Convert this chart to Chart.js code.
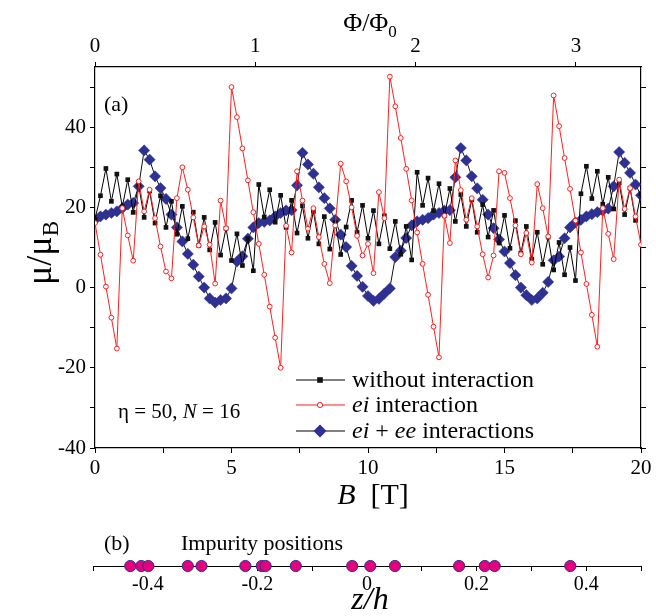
<!DOCTYPE html>
<html>
<head>
<meta charset="utf-8">
<script src="https://cdn.jsdelivr.net/npm/chart.js@4.4.1/dist/chart.umd.min.js"></script>
<style>
  html, body { margin: 0; padding: 0; background: #fff; }
  #wrap { position: relative; width: 656px; height: 616px; overflow: hidden; }
  #main { position: absolute; left: 0; top: 0; }
  #imp  { position: absolute; left: 0; top: 520px; }
</style>
</head>
<body>
<div id="wrap">
  <canvas id="main" width="656" height="520"></canvas>
  <canvas id="imp" width="656" height="96"></canvas>
</div>
<script>
// Magnetic field B [T], sampled every 0.2 T
const fieldT = [
  0, 0.2, 0.4, 0.6, 0.8, 1, 1.2, 1.4, 1.6, 1.8,
  2, 2.2, 2.4, 2.6, 2.8, 3, 3.2, 3.4, 3.6, 3.8,
  4, 4.2, 4.4, 4.6, 4.8, 5, 5.2, 5.4, 5.6, 5.8,
  6, 6.2, 6.4, 6.6, 6.8, 7, 7.2, 7.4, 7.6, 7.8,
  8, 8.2, 8.4, 8.6, 8.8, 9, 9.2, 9.4, 9.6, 9.8,
  10, 10.2, 10.4, 10.6, 10.8, 11, 11.2, 11.4, 11.6, 11.8,
  12, 12.2, 12.4, 12.6, 12.8, 13, 13.2, 13.4, 13.6, 13.8,
  14, 14.2, 14.4, 14.6, 14.8, 15, 15.2, 15.4, 15.6, 15.8,
  16, 16.2, 16.4, 16.6, 16.8, 17, 17.2, 17.4, 17.6, 17.8,
  18, 18.2, 18.4, 18.6, 18.8, 19, 19.2, 19.4, 19.6, 19.8,
  20
];

// Magnetic moment mu/mu_B without interaction
const muWithout = [
  17, 22.9, 29.7, 21.5, 28.3, 20.1, 26.9, 18.75, 25.5, 17.5,
  24.1, 16.1, 22.9, 15, 21.5, 13.3, 20.25, 12.2, 18.8, 10.5,
  17.5, 9.4, 16.25, 8.1, 14.8, 6.75, 13.4, 5.5, 12.2, 4.2,
  25.7, 17.6, 24.4, 16.3, 23, 15, 21.75, 13.6, 20.4, 12.3,
  19, 10.9, 17.7, 9.6, 16.3, 8.25, 15.1, 21.75, 13.75, 20.5,
  12.3, 19.2, 10.9, 17.9, 9.7, 16.5, 8.3, 15.25, 6.9, 28.75,
  20.5, 27.3, 19.2, 25.9, 17.9, 24.7, 16.5, 23.2, 15.25, 21.9,
  13.8, 20.7, 12.6, 19.25, 11.1, 18, 9.8, 16.7, 8.6, 15.25,
  7.1, 13.8, 5.8, 12.6, 4.4, 11.25, 3.2, 10, 1.75, 23.4,
  30.25, 22.2, 29, 20.8, 27.5, 19.6, 26.1, 18.2, 24.8, 16.75,
  23.4
];

// with electron-impurity interaction
const muEi = [
  16.1, 8.2, 0.25, -7.5, -15.2, 19.8, 13, 6.7, 26.5, 19,
  24.4, 17.3, 10.25, 4, 2.3, 22.3, 30, 24.4, 17.5, 10.5,
  15.25, 10.7, 1, 21.7, 14.8, 50, 42.5, 34.7, 26.75, 18.8,
  10.9, 3.2, -4.75, -12.5, -20, 15.4, 8.75, 29, 21.7, 14.7,
  19.8, 12.6, 5.9, 1.1, 15.5, 30.9, 26.5, 20, 12.9, 8,
  10.9, 3.6, 23.8, 17.3, 52.6, 45.2, 37.3, 29.6, 21.75, 13.75,
  5.9, -1.8, -9.75, -17.4, 17.9, 11.1, 31.7, 24.3, 16.9, 22.3,
  15.25, 8.3, 2.5, 8, 29, 28.6, 22.3, 15.5, 8.3, 13.6,
  6.25, 25.8, 19.8, 12.75, 47.9, 40.25, 32.3, 24.6, 16.7, 8.75,
  0.9, -6.8, -14.75, 19.8, 13.4, 7.1, 26.9, 19.6, 24.8, 17.75,
  10.7
];

// with electron-impurity and electron-electron interactions
const muEiEe = [
  16.9, 17.75, 18.2, 18.6, 19, 19.8, 20.7, 21.1, 25.25, 34.2,
  31.9, 27.75, 24.8, 22.1, 18.2, 15, 11.5, 8.4, 5.7, 2.75,
  0, -2.7, -3.75, -3.1, -2.7, -0.2, 6.5, 7.8, 12.2, 15,
  16.1, 16.4, 16.75, 17.75, 18.6, 19.25, 19.3, 25.5, 33.6, 30.7,
  28.4, 25, 22.3, 19.75, 16.9, 13.2, 10.1, 5.4, 2.9, 0.2,
  -2.1, -3.3, -2.8, -1.5, -0.2, 7.6, 9.2, 12.35, 15.5, 16.5,
  16.9, 17.3, 18.2, 18.6, 19.2, 19.3, 27.5, 34.8, 31.7, 27.75,
  24.75, 21.9, 18.2, 14.8, 12, 9, 6.1, 3.1, 0, -1.9,
  -3.1, -2.7, -1.3, 1.4, 6.8, 7.75, 12.3, 15, 16.25, 16.9,
  17.75, 18.3, 18.8, 19.2, 19.7, 25.25, 33.8, 31.1, 28.6, 25.7,
  23
];

// Impurity positions along the wire, z/h
const impurityZ = [
  -0.432, -0.412, -0.399, -0.327, -0.302, -0.222, -0.192, -0.185,
  -0.130, -0.027, 0.006, 0.051, 0.168, 0.215, 0.233, 0.371
];

// Axis ticks (labelled values and all tick marks)
const fieldTicks = [0, 5, 10, 15, 20];
const fieldTickMarks = [0, 2.5, 5, 7.5, 10, 12.5, 15, 17.5, 20];
const fluxTicks = [0, 1, 2, 3];
const muTicks = [-40, -20, 0, 20, 40];
const muTickMarks = [-40, -30, -20, -10, 0, 10, 20, 30, 40, 50];
const zTicks = [-0.4, -0.2, 0, 0.2, 0.4];
const zTickLabels = ['-0.4', '-0.2', '0', '0.2', '0.4'];
const zTickMarks = [-0.5, -0.4, -0.3, -0.2, -0.1, 0, 0.1, 0.2, 0.3, 0.4, 0.5];

const teslaPerFluxQuantum = 5.872;   // field giving one flux quantum through the ring

const SERIF = "'Liberation Serif', 'Times New Roman', serif";
const RED = '#ff1f1f';
const NAVY = '#2e3192';
const MAGENTA = '#e4007c';

// Draw a run of text pieces with individual fonts / vertical offsets
function drawRuns(ctx, parts, x, y, align) {
  let w = 0;
  parts.forEach(p => { ctx.font = p.font; w += ctx.measureText(p.t).width; });
  let cx = align === 'center' ? x - w / 2 : x;
  parts.forEach(p => {
    ctx.font = p.font;
    ctx.fillText(p.t, cx, y + (p.dy || 0));
    cx += ctx.measureText(p.t).width;
  });
}

function near(list, v) {
  return list.findIndex(t => Math.abs(t - v) < 1e-6);
}

function marker(ctx, kind, x, y) {
  ctx.save();
  if (kind === 'square') {
    ctx.fillStyle = '#111';
    ctx.fillRect(x - 2.8, y - 2.8, 5.6, 5.6);
  } else if (kind === 'circle') {
    ctx.beginPath(); ctx.arc(x, y, 2.6, 0, Math.PI * 2);
    ctx.fillStyle = '#fff'; ctx.fill();
    ctx.strokeStyle = RED; ctx.lineWidth = 1; ctx.stroke();
  } else {
    const r = 6.5;
    ctx.beginPath();
    ctx.moveTo(x, y - r); ctx.lineTo(x + r, y); ctx.lineTo(x, y + r); ctx.lineTo(x - r, y);
    ctx.closePath(); ctx.fillStyle = NAVY; ctx.fill();
  }
  ctx.restore();
}

const legendRows = [
  { y: 380, kind: 'square', line: '#000', parts: [['without interaction', false]] },
  { y: 405, kind: 'circle', line: RED, parts: [['ei', true], [' interaction', false]] },
  { y: 431, kind: 'diamond', line: '#000', parts: [['ei', true], [' + ', false], ['ee', true], [' interactions', false]] }
];

const mainText = {
  id: 'mainText',
  afterDraw(chart) {
    const c = chart.ctx;
    c.save();
    c.fillStyle = '#000';
    c.textBaseline = 'alphabetic';

    c.font = `22px ${SERIF}`;
    c.fillText('(a)', 104, 111);

    // top axis title
    drawRuns(c, [
      { t: 'Φ/Φ', font: `26px ${SERIF}` },
      { t: '0', font: `17px ${SERIF}`, dy: 6 }
    ], 370, 31, 'center');

    // bottom axis title
    drawRuns(c, [
      { t: 'B', font: `italic 30px ${SERIF}` },
      { t: '  [T]', font: `30px ${SERIF}` }
    ], 373, 504, 'center');

    // legend
    legendRows.forEach(row => {
      c.strokeStyle = row.line; c.lineWidth = 1;
      c.beginPath(); c.moveTo(296, row.y); c.lineTo(345, row.y); c.stroke();
      marker(c, row.kind, 320, row.y);
      c.fillStyle = '#000';
      drawRuns(c, row.parts.map(([t, it]) => ({ t, font: `${it ? 'italic ' : ''}24px ${SERIF}` })), 352, row.y + 7, 'left');
    });

    // parameters
    drawRuns(c, [
      { t: 'η = 50, ', font: `21px ${SERIF}` },
      { t: 'N', font: `italic 21px ${SERIF}` },
      { t: ' = 16', font: `21px ${SERIF}` }
    ], 118, 418, 'left');

    // rotated y title
    c.translate(40, 253);
    c.rotate(-Math.PI / 2);
    drawRuns(c, [
      { t: 'μ/μ', font: `36px ${SERIF}` },
      { t: 'B', font: `23px ${SERIF}`, dy: 7 }
    ], 0, 11, 'center');
    c.restore();
  }
};

const edgeGrid = { drawOnChartArea: false, drawTicks: true, tickLength: 5, color: '#000', lineWidth: 1 };
const edgeBorder = { display: true, color: '#000', width: 1.2 };
const tickFont = { family: SERIF, size: 21 };

const series = (ys) => fieldT.map((b, i) => ({ x: b, y: ys[i] }));

new Chart(document.getElementById('main'), {
  type: 'line',
  data: {
    datasets: [
      {
        label: 'without interaction', data: series(muWithout),
        borderColor: '#000', borderWidth: 1, pointStyle: 'rect', pointRadius: 3.3,
        pointBackgroundColor: '#111', pointBorderColor: '#111', pointBorderWidth: 0, order: 2
      },
      {
        label: 'ei interaction', data: series(muEi),
        borderColor: RED, borderWidth: 1, pointStyle: 'circle', pointRadius: 2.4,
        pointBackgroundColor: '#fff', pointBorderColor: RED, pointBorderWidth: 1, order: 1
      },
      {
        label: 'ei + ee interactions', data: series(muEiEe),
        borderColor: '#111', borderWidth: 1, pointStyle: 'rectRot', pointRadius: 5.6,
        pointBackgroundColor: NAVY, pointBorderColor: NAVY, pointBorderWidth: 0.5, order: 3
      }
    ]
  },
  options: {
    responsive: false, animation: false, devicePixelRatio: 1,
    layout: { padding: 0 },
    plugins: { legend: { display: false }, tooltip: { enabled: false } },
    scales: {
      x: {
        type: 'linear', position: 'bottom', min: 0, max: 20,
        afterBuildTicks: s => { s.ticks = fieldTickMarks.map(v => ({ value: v })); },
        ticks: {
          autoSkip: false, maxRotation: 0, padding: 3, color: '#000', font: tickFont,
          callback: v => near(fieldTicks, v) >= 0 ? String(v) : ''
        },
        grid: edgeGrid, border: edgeBorder,
        afterFit: s => { s.height = 72; }
      },
      flux: {
        type: 'linear', position: 'top', min: 0, max: 20 / teslaPerFluxQuantum,
        afterBuildTicks: s => { s.ticks = fluxTicks.map(v => ({ value: v })); },
        ticks: { autoSkip: false, maxRotation: 0, padding: 3, color: '#000', font: tickFont },
        grid: edgeGrid, border: edgeBorder,
        afterFit: s => { s.height = 67; }
      },
      y: {
        type: 'linear', position: 'left', min: -40, max: 55,
        afterBuildTicks: s => { s.ticks = muTickMarks.map(v => ({ value: v })); },
        ticks: {
          autoSkip: false, padding: 4, color: '#000', font: tickFont,
          callback: v => near(muTicks, v) >= 0 ? String(v) : ''
        },
        grid: edgeGrid, border: edgeBorder,
        afterFit: s => { s.width = 95; }
      },
      yRight: {
        type: 'linear', position: 'right', min: -40, max: 55,
        afterBuildTicks: s => { s.ticks = muTickMarks.map(v => ({ value: v })); },
        ticks: { autoSkip: false, callback: () => '' },
        grid: edgeGrid, border: edgeBorder,
        afterFit: s => { s.width = 15; }
      }
    }
  },
  plugins: [mainText]
});

const impText = {
  id: 'impText',
  afterDraw(chart) {
    const c = chart.ctx;
    c.save();
    c.fillStyle = '#000';
    c.font = `22px ${SERIF}`;
    c.fillText('(b)', 104, 30);
    c.fillText('Impurity positions', 181, 30);
    drawRuns(c, [{ t: 'z/h', font: `italic 32px ${SERIF}` }], 370, 89, 'center');
    c.restore();
  }
};

new Chart(document.getElementById('imp'), {
  type: 'scatter',
  data: {
    datasets: [{
      data: impurityZ.map(z => ({ x: z, y: 0 })),
      pointRadius: 5.6, pointBackgroundColor: MAGENTA, pointBorderColor: NAVY,
      pointBorderWidth: 1, clip: false
    }]
  },
  options: {
    responsive: false, animation: false, devicePixelRatio: 1,
    layout: { padding: { left: 93, right: 15, top: 10, bottom: 0 } },
    plugins: { legend: { display: false }, tooltip: { enabled: false } },
    scales: {
      x: {
        type: 'linear', min: -0.5, max: 0.5,
        afterBuildTicks: s => { s.ticks = zTickMarks.map(v => ({ value: v })); },
        ticks: {
          autoSkip: false, maxRotation: 0, padding: 2, color: '#000', font: { family: SERIF, size: 20 },
          callback: v => { const k = near(zTicks, v); return k >= 0 ? zTickLabels[k] : ''; }
        },
        grid: { drawOnChartArea: false, drawTicks: true, tickLength: 5, color: '#000', lineWidth: 1 },
        border: { display: true, color: '#000', width: 1 },
        afterFit: s => { s.height = 50; }
      },
      y: { display: false, min: 0, max: 1 }
    }
  },
  plugins: [impText]
});
</script>
</body>
</html>
